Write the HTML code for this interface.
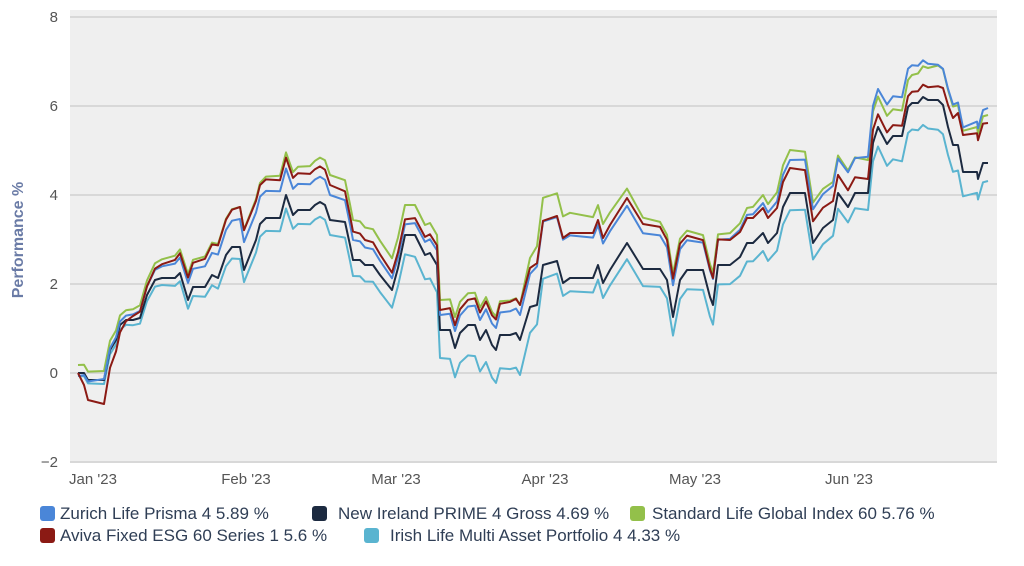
<!DOCTYPE html>
<html><head><meta charset="utf-8"><style>
body{margin:0;background:#fff;width:1024px;height:566px;overflow:hidden;font-family:"Liberation Sans",sans-serif}
</style></head><body>
<svg id="s" width="1024" height="566" xmlns="http://www.w3.org/2000/svg" style="position:absolute;left:0;top:0">
<rect x="70" y="10" width="927" height="453" fill="#efefef"/>
<g stroke="#c9c9c9" stroke-width="1.3">
<line x1="70" x2="997" y1="17" y2="17"/><line x1="70" x2="997" y1="106" y2="106"/>
<line x1="70" x2="997" y1="195" y2="195"/><line x1="70" x2="997" y1="284" y2="284"/>
<line x1="70" x2="997" y1="373" y2="373"/><line x1="70" x2="997" y1="462" y2="462"/>
</g>
<g font-size="15" fill="#555" text-anchor="end">
<text x="58" y="22">8</text><text x="58" y="111">6</text><text x="58" y="200">4</text>
<text x="58" y="289">2</text><text x="58" y="378">0</text><text x="58" y="467">−2</text>
</g>
<g font-size="15" fill="#555" text-anchor="middle">
<text x="93" y="484">Jan '23</text><text x="246" y="484">Feb '23</text><text x="396" y="484">Mar '23</text>
<text x="545" y="484">Apr '23</text><text x="695" y="484">May '23</text><text x="849" y="484">Jun '23</text>
</g>
<text transform="translate(23,240) rotate(-90)" text-anchor="middle" font-size="16" font-weight="bold" fill="#6a7ba6">Performance %</text>
<g id="lines" fill="none" stroke-width="2" stroke-linejoin="round"></g>
<g font-size="17" fill="#2f3e55">
<rect x="40" y="506" width="15" height="15" rx="3" fill="#4a86d8"/><text x="60" y="519">Zurich Life Prisma 4 5.89 %</text>
<rect x="312" y="506" width="15" height="15" rx="3" fill="#1c2a40"/><text x="338" y="519">New Ireland PRIME 4 Gross 4.69 %</text>
<rect x="630" y="506" width="15" height="15" rx="3" fill="#93c04a"/><text x="652" y="519">Standard Life Global Index 60 5.76 %</text>
<rect x="40" y="528" width="15" height="15" rx="3" fill="#8b1a14"/><text x="60" y="541">Aviva Fixed ESG 60 Series 1 5.6 %</text>
<rect x="364" y="528" width="15" height="15" rx="3" fill="#5ab4d0"/><text x="390" y="541">Irish Life Multi Asset Portfolio 4 4.33 %</text>
</g>
</svg>
<script>
var b=[78,373,84,373,88,380,104,380,110,350,116,340,120,325,126,320,133,320,140,318,147,295,155,280,162,278,175,278,180,273,188,300,193,287,205,287,212,275,218,278,226,255,232,247,240,247,244,270,250,255,256,240,260,224,266,218,280,218,286,195,293,215,298,210,310,210,315,205,320,202,325,205,330,220,345,222,350,245,353,260,360,260,365,265,373,265,380,275,392,290,398,268,405,235,415,235,420,245,425,255,430,253,437,265,440,330,450,330,455,348,460,333,468,325,475,325,480,340,486,330,492,345,496,350,500,335,510,335,516,333,520,340,530,307,537,305,543,265,557,261,563,283,570,278,593,278,598,265,603,283,610,270,627,243,643,269,660,269,667,280,673,317,680,280,687,270,703,270,710,297,713,305,718,265,730,265,740,257,747,243,753,243,763,233,768,243,777,233,783,207,790,193,805,193,813,243,823,228,833,220,838,193,848,207,855,193,868,193,873,143,878,127,887,144,893,136,902,136,908,107,912,103,918,103,923,97,928,100,938,100,943,105,948,127,953,145,958,145,963,172,977,172,978,179,983,163,988,163];
var S=[
["#5ab4d0",[[78,3],[130,5],[240,12],[330,15],[400,18],[440,28],[520,35],[545,12],[700,20],[860,15],[900,25],[940,30],[988,18]]],
["#1c2a40",[[78,0],[988,0]]],
["#93c04a",[[78,-8],[130,-10],[240,-40],[330,-45],[400,-30],[440,-30],[520,-35],[545,-70],[650,-50],[720,-30],[790,-43],[860,-35],[900,-25],[940,-35],[988,-48]]],
["#4a86d8",[[78,3],[130,-5],[240,-28],[330,-25],[400,-10],[440,-15],[520,-25],[545,-45],[650,-35],[720,-25],[790,-33],[860,-35],[890,-40],[940,-35],[988,-55]]],
["#8b1a14",[[78,0],[90,24],[104,24],[130,-3],[240,-40],[330,-35],[400,-15],[440,-20],[520,-35],[545,-45],[650,-45],[720,-25],[790,-25],[860,-15],[900,-10],[940,-14],[963,-37],[988,-40]]]
];
function off(c,x){for(var i=0;i<c.length-1;i++){if(x<=c[i+1][0]){var t=(x-c[i][0])/(c[i+1][0]-c[i][0]);return c[i][1]+t*(c[i+1][1]-c[i][1]);}}return c[c.length-1][1];}
var g=document.getElementById('lines'),h='';
S.forEach(function(s){var p=[];for(var i=0;i<b.length;i+=2){p.push(b[i]+','+(b[i+1]+off(s[1],b[i])).toFixed(1));}
h+='<polyline stroke="'+s[0]+'" points="'+p.join(' ')+'"/>';});
g.innerHTML=h;
</script>
</body></html>
